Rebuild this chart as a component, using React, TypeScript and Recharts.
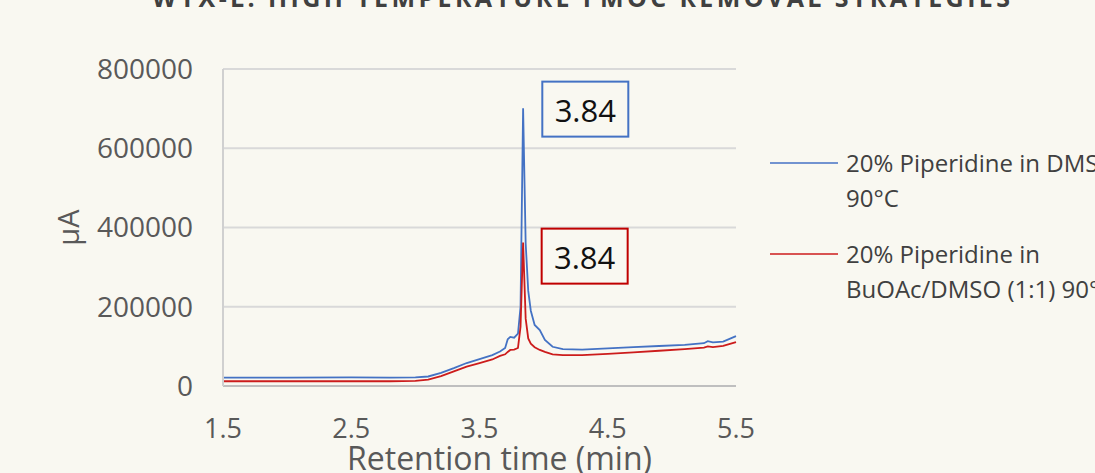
import React from 'react';
import { LineChart, Line, XAxis, YAxis, CartesianGrid, ReferenceDot } from 'recharts';

const title = 'WYX-L: HIGH TEMPERATURE FMOC REMOVAL STRATEGIES';
const seriesNames = ['20% Piperidine in DMSO 90°C', '20% Piperidine in BuOAc/DMSO (1:1) 90°C'];
const legendLines = [
  ['20% Piperidine in DMSO', '90°C'],
  ['20% Piperidine in', 'BuOAc/DMSO (1:1) 90°C'],
];
const colors = ['#4472C4', '#CC1C1C'];

const times = [
  1.5, 2.0, 2.5, 2.8, 3.0, 3.1, 3.2, 3.3, 3.4, 3.5, 3.6, 3.66, 3.7, 3.72, 3.74, 3.77, 3.8, 3.82, 3.84,
  3.86, 3.88, 3.9, 3.93, 3.97, 4.01, 4.07, 4.15, 4.3, 4.5, 4.7, 4.9, 5.1, 5.25, 5.28, 5.32, 5.4, 5.5,
];
const dmso = [
  21000, 21000, 22000, 21000, 22000, 24000, 33000, 45000, 58000, 68000, 78000, 87000, 96000, 118000,
  124000, 122000, 132000, 200000, 701000, 360000, 240000, 190000, 154000, 141000, 116000, 99000, 93000,
  92000, 95000, 98000, 101000, 104000, 108000, 113000, 110000, 112000, 126000,
];
const buoac = [
  12000, 12000, 12000, 12000, 13000, 16000, 25000, 37000, 49000, 58000, 67000, 76000, 80000, 86000,
  91000, 92000, 96000, 150000, 362000, 170000, 120000, 107000, 98000, 91000, 86000, 80000, 78000, 78000,
  81000, 85000, 89000, 93000, 97000, 100000, 98000, 101000, 111000,
];

const xTicks = [1.5, 2.5, 3.5, 4.5, 5.5];
const yTicks = [0, 200000, 400000, 600000, 800000];

// peak labels: retention time text, box center in data units
const peakLabels = [
  { text: '3.84', x: 4.325, y: 700000, color: '#4472C4' },
  { text: '3.84', x: 4.32, y: 329000, color: '#C00000' },
];

const data = times.map((t, i) => ({ t, a: dmso[i], b: buoac[i] }));

const font = '"Open Sans", sans-serif';

const PeakBox = (props: any) => {
  const { cx, cy, text, color } = props;
  return (
    <g>
      <rect x={cx - 43} y={cy - 27} width={86} height={55} fill="none" stroke={color} strokeWidth={2} />
      <text x={cx} y={cy + 1} textAnchor="middle" dominantBaseline="central" fontSize={31} fontFamily={font} fill="#111">
        {text}
      </text>
    </g>
  );
};

export default function App() {
  return (
    <div style={{ position: 'fixed', left: 0, top: 0, width: 1095, height: 473, overflow: 'hidden', background: '#F9F8F1' }}>
      <div
        style={{
          position: 'absolute',
          left: 152,
          width: 860,
          top: -13,
          fontFamily: font,
          fontSize: 25,
          fontWeight: 700,
          lineHeight: '20px',
          color: '#404040',
          textAlign: 'center',
          letterSpacing: 3.4,
          whiteSpace: 'nowrap',
        }}
      >
        {title}
      </div>
      <LineChart
        width={1095}
        height={473}
        data={data}
        margin={{ top: 69, right: 359, bottom: 0, left: 0 }}
        style={{ fontFamily: font }}
      >
        <CartesianGrid vertical={false} stroke="#D9D9D9" strokeWidth={2} />
        <XAxis
          type="number"
          dataKey="t"
          domain={[1.5, 5.5]}
          ticks={xTicks}
          height={87}
          tickLine={false}
          tickSize={0}
          tickMargin={33}
          axisLine={{ stroke: '#BFBFBF', strokeWidth: 2 }}
          tick={{ fill: '#595959', fontSize: 27, fontFamily: font }}
          label={({ viewBox }: any) => (
            <text x={viewBox.x + viewBox.width / 2 + 20} y={viewBox.y + 84} textAnchor="middle" fontSize={32} fill="#595959" fontFamily={font}>
              Retention time (min)
            </text>
          )}
        />
        <YAxis
          type="number"
          domain={[0, 800000]}
          ticks={yTicks}
          width={223}
          tickLine={false}
          tickSize={0}
          tickMargin={30}
          axisLine={{ stroke: '#D0D0D0', strokeWidth: 2 }}
          tick={{ fill: '#595959', fontSize: 28, fontFamily: font }}
          label={({ viewBox }: any) => (
            <text
              x={viewBox.x + 67}
              y={viewBox.y + viewBox.height / 2}
              transform={`rotate(-90 ${viewBox.x + 67} ${viewBox.y + viewBox.height / 2})`}
              textAnchor="middle"
              dominantBaseline="central"
              fontSize={29}
              fill="#595959"
              fontFamily={font}
            >
              µA
            </text>
          )}
        />
        <Line type="linear" dataKey="a" name={seriesNames[0]} stroke={colors[0]} strokeWidth={1.8} dot={false} isAnimationActive={false} />
        <Line type="linear" dataKey="b" name={seriesNames[1]} stroke={colors[1]} strokeWidth={1.8} dot={false} isAnimationActive={false} />
        {peakLabels.map((p, i) => (
          <ReferenceDot key={i} x={p.x} y={p.y} r={1} shape={(s: any) => <PeakBox {...s} text={p.text} color={p.color} />} />
        ))}
      </LineChart>
      <div style={{ position: 'absolute', left: 770, top: 145, fontFamily: font, fontSize: 24, color: '#404040', lineHeight: '35px', whiteSpace: 'nowrap' }}>
        {legendLines.map((lines, i) => (
          <div key={i} style={{ display: 'flex', alignItems: 'flex-start', marginBottom: i === 0 ? 21 : 0 }}>
            <svg width={76} height={35} style={{ flex: 'none' }}>
              <line x1={0} x2={68} y1={18} y2={18} stroke={colors[i]} strokeWidth={1.5} />
            </svg>
            <div>
              {lines.map((l, j) => (
                <div key={j}>{l}</div>
              ))}
            </div>
          </div>
        ))}
      </div>
    </div>
  );
}
